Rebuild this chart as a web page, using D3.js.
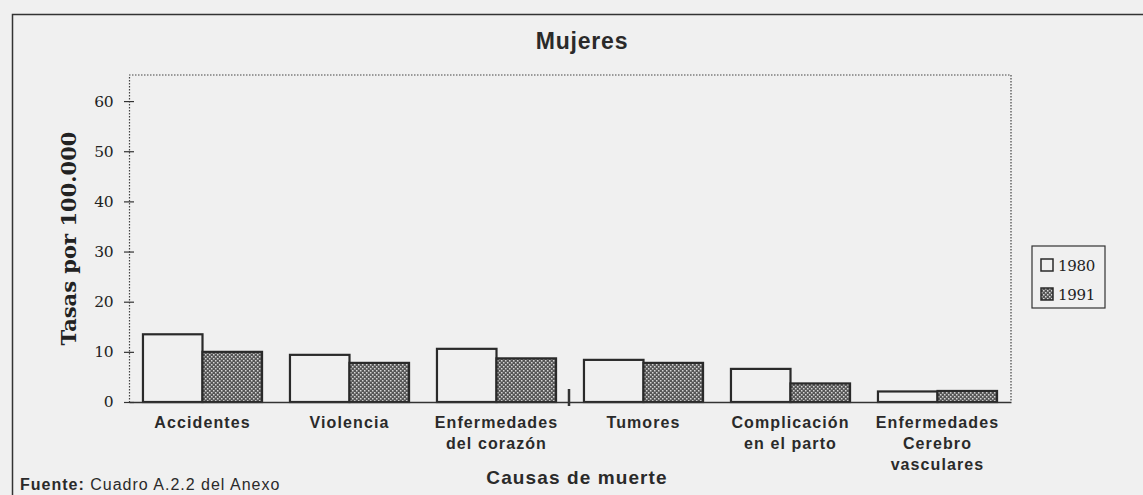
<!DOCTYPE html>
<html><head><meta charset="utf-8">
<script src="https://cdn.jsdelivr.net/npm/d3@7"></script>
<style>
html,body{margin:0;padding:0;background:#f0f0f0;}
svg{display:block;}
</style></head>
<body>
<svg id="chart" width="1143" height="495"></svg>
<script>
const categories = [
  ["Accidentes"],
  ["Violencia"],
  ["Enfermedades", "del corazón"],
  ["Tumores"],
  ["Complicación", "en el parto"],
  ["Enfermedades", "Cerebro", "vasculares"]
];
const years = ["1980", "1991"];
const values1980 = [13.5, 9.4, 10.6, 8.4, 6.6, 2.1];
const values1991 = [10.0, 7.8, 8.7, 7.8, 3.7, 2.2];
const yTicks = [0, 10, 20, 30, 40, 50, 60];
const title = "Mujeres";
const yLabel = "Tasas por 100.000";
const xLabel = "Causas de muerte";

const svg = d3.select("#chart");
const W = 1143, H = 495;
const plot = {left: 129, right: 1011, top: 75, bottom: 402};
const SANS = "Liberation Sans, Arial, sans-serif";
const SERIF = "DejaVu Serif, serif";

// pattern
const defs = svg.append("defs");
const pat = defs.append("pattern").attr("id", "hatch").attr("patternUnits", "userSpaceOnUse")
  .attr("width", 4).attr("height", 4);
pat.append("rect").attr("width", 4).attr("height", 4).attr("fill", "#555");
pat.append("rect").attr("x", 0).attr("y", 0).attr("width", 1.5).attr("height", 1.5).attr("fill", "#d8d8d8");
pat.append("rect").attr("x", 2).attr("y", 2).attr("width", 1.5).attr("height", 1.5).attr("fill", "#d8d8d8");

// outer frame
svg.append("path").attr("d", `M12.5,${H} L12.5,14.5 L${W},14.5`)
  .attr("fill", "none").attr("stroke", "#333").attr("stroke-width", 1.5);

const keys = categories.map((c, i) => i);
const x = d3.scaleBand().domain(keys).range([plot.left, plot.right]).paddingInner(0.19).paddingOuter(0.095);
const x1 = d3.scaleBand().domain(years).range([0, x.bandwidth()]);
const y = d3.scaleLinear().domain([0, 65.2]).range([plot.bottom, plot.top]);

// plot area dotted border (top and right)
svg.append("path").attr("d", `M${plot.left},${plot.top} L${plot.right},${plot.top} L${plot.right},${plot.bottom}`)
  .attr("fill", "none").attr("stroke", "#444").attr("stroke-width", 1.2).attr("stroke-dasharray", "1.5,1.5");

// title
svg.append("text").attr("x", 582).attr("y", 49).attr("text-anchor", "middle")
  .attr("font-family", SANS).attr("font-weight", "bold").attr("letter-spacing", 0.8)
  .attr("font-size", 23).attr("fill", "#2a2a2a").text(title);

// bars
const data = keys.map(i => ({i, vals: [values1980[i], values1991[i]]}));
const groups = svg.append("g").selectAll("g").data(data).join("g")
  .attr("transform", d => `translate(${x(d.i)},0)`);
groups.selectAll("rect").data(d => d.vals.map((v, k) => ({year: years[k], v})))
  .join("rect")
  .attr("x", d => x1(d.year)).attr("width", x1.bandwidth())
  .attr("y", d => y(d.v)).attr("height", d => y(0) - y(d.v))
  .attr("fill", d => d.year === "1980" ? "#f0f0f0" : "url(#hatch)")
  .attr("stroke", "#2a2a2a").attr("stroke-width", 2.2);

// y axis
const yAxis = svg.append("g").attr("transform", `translate(${plot.left},0)`)
  .call(d3.axisLeft(y).tickValues(yTicks).tickSize(0).tickPadding(16));
yAxis.select(".domain").attr("stroke", "#444").attr("stroke-width", 1.2).attr("stroke-dasharray", "1.5,1.5");
yAxis.selectAll(".tick line").attr("x1", -5).attr("x2", 5).attr("stroke", "#333").attr("stroke-width", 1.2);
yAxis.selectAll(".tick text").attr("font-family", SERIF).attr("font-size", 15.5).attr("fill", "#222")
  .attr("letter-spacing", -0.5);

// x axis
const xAxis = svg.append("g").attr("transform", `translate(0,${plot.bottom})`)
  .call(d3.axisBottom(x).tickSize(0).tickFormat(""));
xAxis.select(".domain").attr("stroke", "#333").attr("stroke-width", 1.5);
// boundary mark between categories 3 and 4
svg.append("line").attr("x1", x(3) - x.step() * 0.095 - 1).attr("x2", x(3) - x.step() * 0.095 - 1)
  .attr("y1", plot.bottom - 13).attr("y2", plot.bottom + 4)
  .attr("stroke", "#333").attr("stroke-width", 2.5);

// category labels
const lab = svg.append("g").selectAll("text").data(categories.map((c, i) => ({c, i}))).join("text")
  .attr("x", d => x(d.i) + x.bandwidth() / 2).attr("y", 428)
  .attr("text-anchor", "middle").attr("font-family", SANS)
  .attr("font-weight", "bold").attr("font-size", 16).attr("letter-spacing", 1.1).attr("fill", "#2a2a2a");
lab.selectAll("tspan").data(d => d.c.map((t, k) => ({t, k, x: x(d.i) + x.bandwidth() / 2}))).join("tspan")
  .attr("x", d => d.x).attr("dy", d => d.k === 0 ? 0 : 21).text(d => d.t);

// axis titles
svg.append("text").attr("x", 577).attr("y", 484).attr("text-anchor", "middle")
  .attr("font-family", SANS).attr("font-weight", "bold").attr("letter-spacing", 1.1)
  .attr("font-size", 19).attr("fill", "#2a2a2a").text(xLabel);
svg.append("text").attr("transform", `translate(76,${(plot.top + plot.bottom) / 2}) rotate(-90)`)
  .attr("text-anchor", "middle").attr("font-family", SERIF).attr("font-weight", "bold")
  .attr("font-size", 21).attr("fill", "#222").text(yLabel);

// source
const src = svg.append("text").attr("x", 20).attr("y", 490)
  .attr("font-family", SANS).attr("font-size", 16).attr("letter-spacing", 1).attr("fill", "#2a2a2a");
src.append("tspan").attr("font-weight", "bold").text("Fuente:");
src.append("tspan").text(" Cuadro A.2.2 del Anexo");

// legend
const lg = svg.append("g").attr("transform", "translate(1032,246)");
lg.append("rect").attr("width", 73).attr("height", 62).attr("fill", "none").attr("stroke", "#333").attr("stroke-width", 1.2);
years.forEach((yr, k) => {
  const g = lg.append("g").attr("transform", `translate(9,${13 + k * 29})`);
  g.append("rect").attr("width", 12).attr("height", 12)
    .attr("fill", yr === "1980" ? "#f0f0f0" : "url(#hatch)").attr("stroke", "#2a2a2a").attr("stroke-width", 1.5);
  g.append("text").attr("x", 17).attr("y", 12).attr("font-family", SERIF)
    .attr("font-size", 15).attr("letter-spacing", -0.3).attr("fill", "#222").text(yr);
});
</script>
</body></html>
